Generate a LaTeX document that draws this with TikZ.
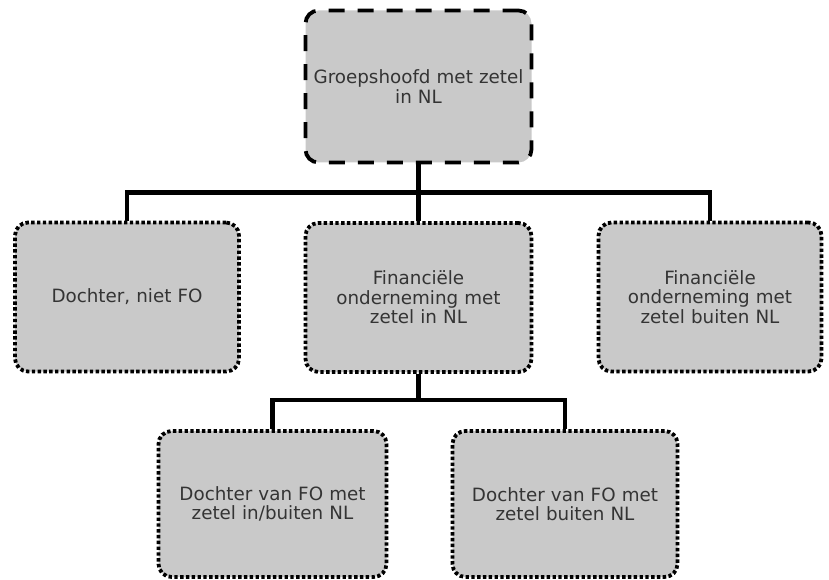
\documentclass[tikz,border=0pt]{standalone}
\usepackage{fontspec}
\setmainfont{DejaVu Sans}
\usepackage{tikz}
\usetikzlibrary{positioning}
\definecolor{boxgray}{RGB}{201,201,201}
\definecolor{txtgray}{RGB}{52,52,52}

\begin{document}
\begin{tikzpicture}[x=1pt,y=-1pt,
font=\fontsize{18.3}{19.5}\selectfont,
unit/.style={fill=boxgray,text=txtgray,rounded corners=13pt,line width=3.8pt,align=center,inner sep=4pt,text width=210pt},
sub/.style={unit,draw=black,dash pattern=on 3.4pt off 2.4pt},
head/.style={unit,draw=black,dash pattern=on 16pt off 13pt},
link/.style={line width=4.5pt,draw=black}]
\useasboundingbox(0,0)rectangle(829,580);

\node[head,minimum width=226pt,minimum height=152pt](top)at(418.5,86.5){Groepshoofd met zetel\\in NL};
\node[sub,minimum width=224pt,minimum height=149pt](dochter)at(127,297){Dochter, niet FO};
\node[sub,minimum width=226pt,minimum height=149pt](fonl)at(418.5,297.5){Financiële\\onderneming met\\zetel in NL};
\node[sub,minimum width=223pt,minimum height=149pt](fobuiten)at(710,297){Financiële\\onderneming met\\zetel buiten NL};
\node[sub,minimum width=228pt,minimum height=146pt](dinbuiten)at(272.5,504){Dochter van FO met\\zetel in/buiten NL};
\node[sub,minimum width=225pt,minimum height=146pt](dbuiten)at(565,504){Dochter van FO met\\zetel buiten NL};

\coordinate(bar1)at(418.5,192.5);
\coordinate(bar2)at(418.5,400);
\draw[link](top.south)--(bar1)-|(dochter.north);
\draw[link](bar1)-|(fobuiten.north);
\draw[link](bar1)--(fonl.north);
\draw[link](fonl.south)--(bar2)-|(dinbuiten.north);
\draw[link](bar2)-|(dbuiten.north);
\end{tikzpicture}
\end{document}
